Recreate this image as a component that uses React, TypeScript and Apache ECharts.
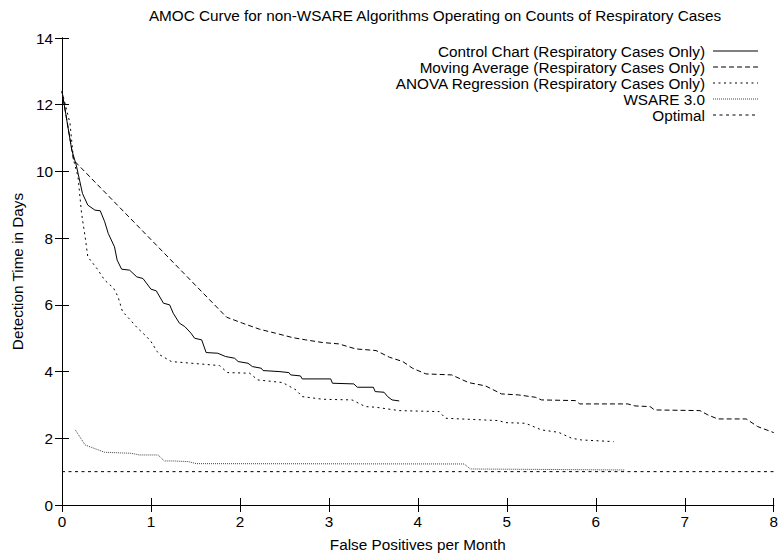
import React, { useEffect, useRef } from "react";
import * as echarts from "echarts";

const titleText = "AMOC Curve for non-WSARE Algorithms Operating on Counts of Respiratory Cases";
const xName = "False Positives per Month";
const yName = "Detection Time in Days";

const seriesNames = [
  "Control Chart (Respiratory Cases Only)",
  "Moving Average (Respiratory Cases Only)",
  "ANOVA Regression (Respiratory Cases Only)",
  "WSARE 3.0",
  "Optimal",
];

const controlChart: [number, number][] = [
  [0, 12.4], [0.11, 10.64], [0.16, 10.19], [0.23, 9.34], [0.29, 8.99], [0.37, 8.84],
  [0.43, 8.82], [0.48, 8.49], [0.52, 8.14], [0.59, 7.74], [0.62, 7.34], [0.67, 7.07],
  [0.76, 7.04], [0.84, 6.84], [0.91, 6.79], [1.0, 6.47], [1.06, 6.42], [1.14, 6.05],
  [1.21, 6.0], [1.25, 5.75], [1.32, 5.45], [1.38, 5.35], [1.45, 5.15], [1.49, 5.0],
  [1.57, 4.95], [1.62, 4.57], [1.75, 4.55], [1.84, 4.45], [1.94, 4.4], [1.98, 4.3],
  [2.09, 4.25], [2.14, 4.15], [2.24, 4.1], [2.26, 4.03], [2.44, 4.0], [2.55, 3.97],
  [2.57, 3.9], [2.68, 3.87], [2.7, 3.78], [3.02, 3.78], [3.04, 3.65], [3.28, 3.63],
  [3.32, 3.53], [3.5, 3.53], [3.52, 3.4], [3.62, 3.38], [3.66, 3.25], [3.71, 3.15],
  [3.79, 3.12],
];

const movingAverage: [number, number][] = [
  [0, 12.4], [0.13, 10.34], [1.85, 5.63], [2.03, 5.45], [2.22, 5.27], [2.4, 5.15],
  [2.59, 5.02], [2.74, 4.95], [2.93, 4.87], [3.11, 4.83], [3.3, 4.68], [3.53, 4.63],
  [3.68, 4.43], [3.83, 4.3], [3.94, 4.1], [4.09, 3.93], [4.38, 3.9], [4.57, 3.67],
  [4.76, 3.57], [4.94, 3.33], [5.13, 3.3], [5.32, 3.23], [5.39, 3.15], [5.77, 3.13],
  [5.82, 3.03], [6.36, 3.03], [6.44, 2.97], [6.61, 2.95], [6.66, 2.85], [7.17, 2.83],
  [7.26, 2.7], [7.37, 2.58], [7.69, 2.58], [7.82, 2.35], [8.0, 2.17],
];

const anovaRegression: [number, number][] = [
  [0, 12.4], [0.09, 11.44], [0.13, 10.34], [0.18, 9.84], [0.22, 8.74], [0.26, 8.04],
  [0.29, 7.44], [0.39, 7.1], [0.48, 6.74], [0.58, 6.5], [0.63, 6.24], [0.68, 5.8],
  [0.75, 5.6], [0.85, 5.3], [0.95, 5.05], [1.0, 4.9], [1.07, 4.6], [1.1, 4.5],
  [1.23, 4.3], [1.77, 4.18], [1.86, 3.97], [2.11, 3.95], [2.2, 3.75], [2.48, 3.67],
  [2.63, 3.45], [2.7, 3.25], [2.93, 3.17], [3.26, 3.15], [3.41, 2.95], [3.53, 2.93],
  [3.79, 2.83], [4.24, 2.8], [4.31, 2.6], [4.91, 2.53], [4.98, 2.47], [5.21, 2.45],
  [5.39, 2.25], [5.58, 2.18], [5.73, 2.0], [5.84, 1.95], [6.2, 1.9],
];

const wsare: [number, number][] = [
  [0.15, 2.25], [0.26, 1.8], [0.48, 1.58], [0.78, 1.55], [0.87, 1.5], [1.08, 1.5],
  [1.15, 1.32], [1.25, 1.32], [1.42, 1.3], [1.51, 1.24], [4.52, 1.23], [4.59, 1.08],
  [6.33, 1.05],
];

const optimal: [number, number][] = [
  [0, 1], [8, 1],
];

const xTicks = { min: 0, max: 8, interval: 1 };
const yTicks = { min: 0, max: 14, interval: 2 };

const FONT = "'Liberation Sans', Arial, sans-serif";
const FS = 15.3;

const styles: { dash: any; color: string }[] = [
  { dash: "solid", color: "#000" },
  { dash: [5, 3], color: "#000" },
  { dash: [2, 3.5], color: "#000" },
  { dash: [1, 1], color: "#444" },
  { dash: [3, 3.5], color: "#000" },
];

export default function App() {
  const ref = useRef<HTMLDivElement>(null);
  useEffect(() => {
    if (!ref.current) return;
    const chart = echarts.init(ref.current, undefined, { renderer: "svg" });
    const axisLine = { show: true, lineStyle: { color: "#000", width: 1 } };
    const axisTick = { show: true, inside: true, length: 7, lineStyle: { color: "#000", width: 1 } };
    const allData = [controlChart, movingAverage, anovaRegression, wsare, optimal];
    const series = seriesNames.map((name, i) => ({
      name,
      type: "line",
      data: allData[i],
      symbol: "none",
      showSymbol: false,
      lineStyle: { color: styles[i].color, width: 1, type: styles[i].dash },
      itemStyle: { color: styles[i].color },
      z: 3,
    }));
    const legendGraphics: any[] = [];
    seriesNames.forEach((name, i) => {
      const cy = 51 + i * 16;
      legendGraphics.push({
        type: "text",
        x: 705,
        y: cy,
        style: {
          text: name,
          fontSize: FS,
          fontFamily: FONT,
          fill: "#000",
          textAlign: "right",
          textVerticalAlign: "middle",
        },
      });
      legendGraphics.push({
        type: "line",
        shape: { x1: 713, y1: cy, x2: 758, y2: cy },
        style: { stroke: styles[i].color, lineWidth: 1, lineDash: styles[i].dash === "solid" ? null : styles[i].dash },
      });
    });
    chart.setOption({
      animation: false,
      backgroundColor: "#fff",
      textStyle: { fontFamily: FONT },
      grid: { left: 62, right: 5, top: 38, bottom: 53, containLabel: false },
      graphic: [
        {
          type: "text",
          x: 435,
          y: 15,
          style: {
            text: titleText,
            fontSize: FS,
            fontFamily: FONT,
            fill: "#000",
            textAlign: "center",
            textVerticalAlign: "middle",
          },
        },
        ...legendGraphics,
      ],
      xAxis: [
        {
          type: "value",
          position: "bottom",
          ...xTicks,
          name: xName,
          nameLocation: "middle",
          nameGap: 32,
          nameTextStyle: { fontSize: FS, fontFamily: FONT, color: "#000" },
          axisLine,
          axisTick,
          splitLine: { show: false },
          axisLabel: { fontSize: FS, fontFamily: FONT, color: "#000", margin: 9 },
        },
        {
          type: "value",
          position: "top",
          ...xTicks,
          axisLine,
          axisTick,
          splitLine: { show: false },
          axisLabel: { show: false },
        },
      ],
      yAxis: [
        {
          type: "value",
          position: "left",
          ...yTicks,
          name: yName,
          nameLocation: "middle",
          nameGap: 34,
          nameTextStyle: { fontSize: FS, fontFamily: FONT, color: "#000" },
          axisLine,
          axisTick,
          splitLine: { show: false },
          axisLabel: { fontSize: FS, fontFamily: FONT, color: "#000", margin: 9 },
        },
        {
          type: "value",
          position: "right",
          ...yTicks,
          axisLine,
          axisTick,
          splitLine: { show: false },
          axisLabel: { show: false },
        },
      ],
      series,
    });
    return () => chart.dispose();
  }, []);
  return <div ref={ref} style={{ width: 781, height: 558, position: "absolute", left: 0, top: 0 }} />;
}
